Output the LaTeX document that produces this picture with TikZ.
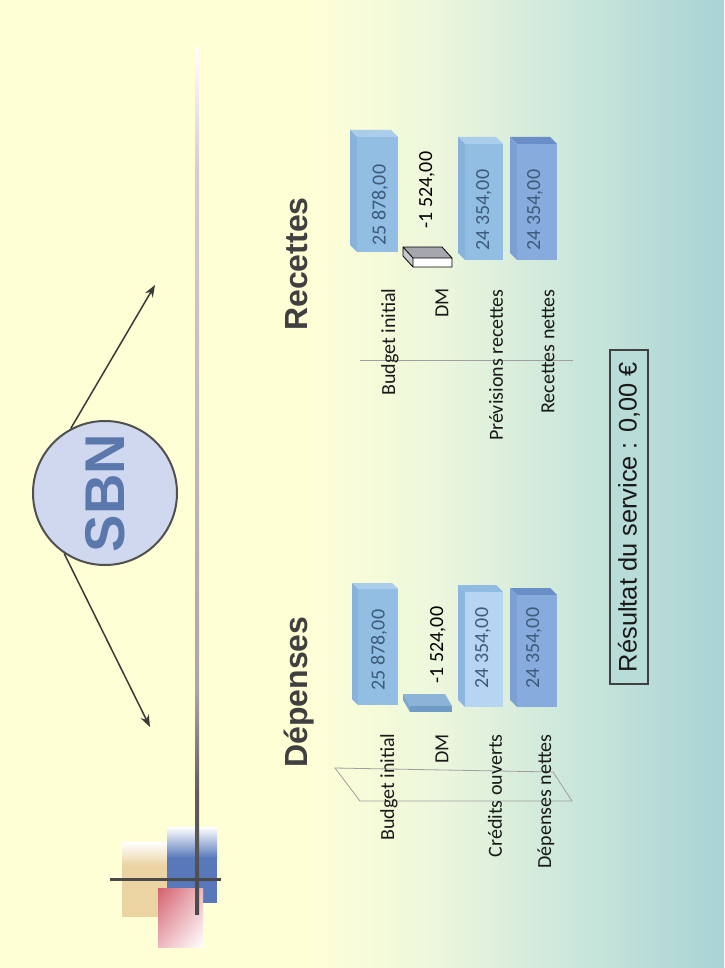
\documentclass[tikz,border=0pt]{standalone}
\usepackage{fontspec}
\setmainfont{Carlito}
\newfontfamily\arial{Liberation Sans}
\usetikzlibrary{arrows.meta,shadings}
\definecolor{bgY}{HTML}{FFFFD6}
\definecolor{bgM}{HTML}{EDF7DC}
\definecolor{bgG}{HTML}{C9E6DB}
\definecolor{bgT}{HTML}{A9D3D5}
\definecolor{lnD}{HTML}{4A4A4A}
\definecolor{lnD2}{HTML}{5E5E5E}
\definecolor{lnM}{HTML}{A8A8A8}
\definecolor{lnL}{HTML}{D0D0D0}
\definecolor{beigeC}{HTML}{EBD3A2}
\definecolor{blueC}{HTML}{5878BA}
\definecolor{redC}{HTML}{D4606E}
\definecolor{pinkC}{HTML}{EDB8BE}
\definecolor{circF}{HTML}{CFD8EE}
\definecolor{circD}{HTML}{505050}
\definecolor{sbnC}{HTML}{5B78AC}
\definecolor{arrC}{HTML}{3A3A3A}
\definecolor{headC}{HTML}{404040}
\definecolor{numC}{HTML}{3C5A7A}
\definecolor{resF}{HTML}{B8DCD8}
\definecolor{biF}{HTML}{93BEE3}
\definecolor{biT}{HTML}{A9CDEB}
\definecolor{biL}{HTML}{86B2DB}
\definecolor{coF}{HTML}{B6D5F2}
\definecolor{coT}{HTML}{8FBAE2}
\definecolor{coL}{HTML}{8AB6E0}
\definecolor{neF}{HTML}{87ABDD}
\definecolor{neT}{HTML}{6A8FC8}
\definecolor{neL}{HTML}{7C9FD4}
\definecolor{dmF}{HTML}{6F9CC6}
\definecolor{dmT}{HTML}{8BB4D8}
\definecolor{dmL}{HTML}{7AA6CF}
\definecolor{rdT}{HTML}{A6A6AE}
\definecolor{rdL}{HTML}{C8C8CC}
\pgfdeclarehorizontalshading{bgshade}{100bp}{color(0bp)=(bgY); color(25bp)=(bgY); color(46bp)=(bgY); color(55bp)=(bgM); color(65bp)=(bgG); color(75bp)=(bgT); color(100bp)=(bgT)}
\pgfdeclareverticalshading{tline}{100bp}{color(0bp)=(lnD); color(25bp)=(lnD); color(32bp)=(lnD2); color(38bp)=(lnM); color(68bp)=(lnL); color(75bp)=(white); color(100bp)=(white)}
% front face (#1,#2)-(#3,#4), depth #5,#6, colours front/top/left
\newcommand\barbox[9]{%
  \fill[#8] (#1-#5,#2-#6) -- (#3-#5,#2-#6) -- (#3,#2) -- (#1,#2) -- cycle;
  \fill[#9] (#1-#5,#2-#6) -- (#1,#2) -- (#1,#4) -- (#1-#5,#4-#6) -- cycle;
  \fill[#7] (#1,#2) rectangle (#3,#4);
}
\begin{document}
\begin{tikzpicture}[x=0.5pt,y=-0.5pt,
  lbl/.style={rotate=90,anchor=east,inner sep=0pt,font=\fontsize{10}{12}\selectfont,text=black!90},
  num/.style={rotate=90,inner sep=0pt,font=\fontsize{10}{12}\selectfont,text=numC},
  head/.style={rotate=90,inner sep=0pt,font=\arial\bfseries\fontsize{16}{19}\selectfont,text=headC},
  conn/.style={draw=arrC,line width=0.75pt,-{Stealth[length=6pt,width=4.5pt]}},
  axisln/.style={draw=gray!75,line width=0.4pt}]
\useasboundingbox (0,0) rectangle (724,968);
\shade[shading=bgshade] (0,0) rectangle (724,968);

% decoration
\fill[beigeC] (122,866) rectangle (167,917);
\shade[top color=white,bottom color=beigeC] (122,842) rectangle (167,866);
\fill[blueC] (167,858) rectangle (217,903);
\shade[top color=white,bottom color=blueC] (167,827) rectangle (217,858);
\shade[upper left=redC,upper right=pinkC,lower left=pinkC,lower right=white] (158,888) rectangle (203,947);
\shade[shading=tline] (195,48) rectangle (199,914);
\fill[lnD] (110,877.5) rectangle (221,881);

% SBN
\node[circle,draw=circD,line width=1pt,fill=circF,minimum size=72pt,inner sep=0pt] (sbn) at (105,493) {};
\node[rotate=90,inner sep=0pt,text=sbnC,font=\arial\bfseries\fontsize{28}{30}\selectfont] (sbnt) at (105,493) {SBN};
\coordinate (tipR) at (155,285);
\coordinate (tipD) at (150,727);
\draw[conn] (sbn.118) -- (tipR);
\draw[conn] (sbn.236) -- (tipD);

% headings
\node[head] (hdep) at (299,692) {Dépenses};
\node[head] (hrec) at (297,264) {Recettes};

% Dépenses chart
\coordinate (pA) at (335,768);
\coordinate (pB) at (553,772);
\coordinate (pC) at (572,801);
\coordinate (pD) at (360,801);
\draw[axisln] (pA) -- (pB) -- (pC) -- (pD) -- cycle;
\barbox{358}{589}{398}{705}{6}{6}{biF}{biT}{biL}
\barbox{410}{706}{452}{712}{7}{12}{dmF}{dmT}{dmL}
\barbox{465}{592}{503}{707}{7}{7}{coF}{coT}{coL}
\barbox{517}{595}{557}{707}{7}{7}{neF}{neT}{neL}
\node[num] (dv1) at (379,650) {25 878,00};
\node[num,text=black] (dv2) at (438,645) {-1 524,00};
\node[num] (dv3) at (483,648) {24 354,00};
\node[num] (dv4) at (534,648) {24 354,00};
\node[lbl] (dl1) at (389,733) {Budget initial};
\node[lbl] (dl2) at (442,734) {DM};
\node[lbl] (dl3) at (495,734) {Crédits ouverts};
\node[lbl] (dl4) at (546,734) {Dépenses nettes};

% Recettes chart
\coordinate (rA) at (360,360);
\coordinate (rB) at (573,360);
\draw[axisln] (rA) -- (rB);
\barbox{357}{137}{398}{252}{7}{7}{biF}{biT}{biL}
\barbox{413}{258}{452}{267}{10}{11}{white}{rdT}{rdL}
\draw[black,line width=0.4pt] (403,247) -- (442,247) -- (452,258) -- (452,267) -- (413,267) -- (403,256) -- cycle (413,258) -- (452,258) (413,258) -- (413,267) (403,247) -- (413,258);
\barbox{465}{144}{503}{260}{7}{7}{biF}{biT}{biL}
\barbox{517}{144}{557}{260}{7}{7}{neF}{neT}{neL}
\node[num] (rv1) at (380,205) {25 878,00};
\node[num,text=black] (rv2) at (427,190) {-1 524,00};
\node[num] (rv3) at (484,210) {24 354,00};
\node[num] (rv4) at (535,210) {24 354,00};
\node[lbl] (rl1) at (390,288) {Budget initial};
\node[lbl] (rl2) at (442,288) {DM};
\node[lbl] (rl3) at (496,289) {Prévisions recettes};
\node[lbl] (rl4) at (548,289) {Recettes nettes};

% result
\node[rotate=90,draw=headC,line width=0.8pt,fill=resF,minimum width=167pt,minimum height=19pt,inner sep=0pt,text=black!90,font=\arial\fontsize{12.7}{15}\selectfont] (res) at (629,517) {Résultat du service : 0,00 €};
\end{tikzpicture}
\end{document}
